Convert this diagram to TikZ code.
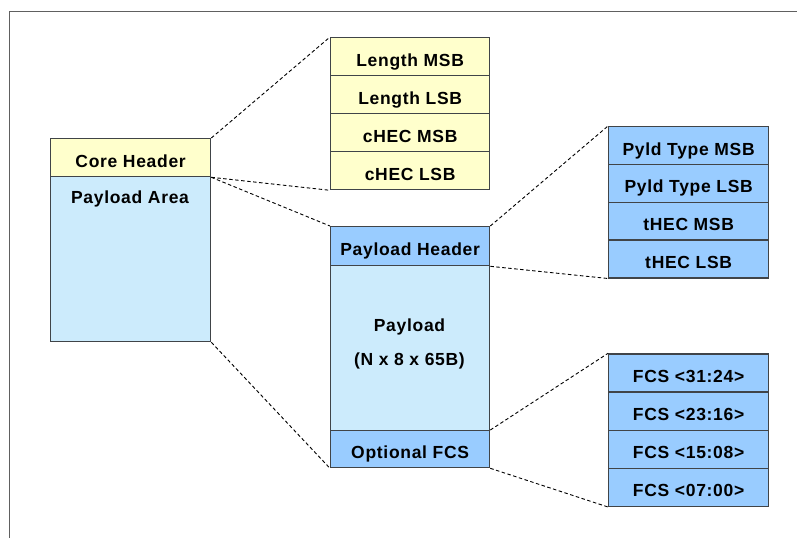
\documentclass[tikz,border=0pt]{standalone}
\usepackage{fontspec}
\setmainfont{Liberation Sans}[LetterSpace=4]
\definecolor{hdryel}{HTML}{FFFFCC}
\definecolor{ltblue}{HTML}{CCEBFC}
\definecolor{midblue}{HTML}{99CCFF}
\definecolor{boxline}{HTML}{404448}
\definecolor{framecol}{HTML}{606060}
\begin{document}
\begin{tikzpicture}[x=1pt,y=-1pt,
  cell/.style={draw=boxline, line width=1.3pt, inner sep=0pt, anchor=north west,
    font=\fontsize{17.5}{19}\selectfont\bfseries, text height=19pt, text depth=0pt},
  ycell/.style={cell, fill=hdryel},
  bcell/.style={cell, fill=midblue},
  lcell/.style={cell, fill=ltblue},
  lbl/.style={font=\fontsize{17.5}{19}\selectfont\bfseries, inner sep=0pt, anchor=base},
  conn/.style={draw=black, line width=0.9pt, dash pattern=on 3.5pt off 2.5pt}]
\useasboundingbox (0,0) rectangle (797,538);
\draw[framecol, line width=1pt] (9,538) -- (9,11) -- (797,11);

% left block
\node[ycell, minimum width=160pt, minimum height=38pt] (core) at (50,138) {Core Header};
\node[lcell, minimum width=160pt, minimum height=165pt] (parea) at (50,176) {};
\node[lbl] (parealbl) at (130,203.3) {Payload Area};

% yellow stack
\node[ycell, minimum width=159pt, minimum height=38pt] (lmsb) at (330,37) {Length MSB};
\node[ycell, minimum width=159pt, minimum height=38pt] (llsb) at (330,75) {Length LSB};
\node[ycell, minimum width=159pt, minimum height=38pt] (cmsb) at (330,113) {cHEC MSB};
\node[ycell, minimum width=159pt, minimum height=38pt] (clsb) at (330,151) {cHEC LSB};

% middle block
\node[bcell, minimum width=159pt, minimum height=39pt] (phdr) at (330,226) {Payload Header};
\node[lcell, minimum width=159pt, minimum height=165pt] (pay) at (330,265) {};
\node[lbl] (paylbl) at (409.5,331.7) {Payload};
\node[lbl] (paylbl2) at (409.5,365) {(N x 8 x 65B)};
\node[bcell, minimum width=159pt, minimum height=37pt] (ofcs) at (330,430) {Optional FCS};

% right stack 1
\node[bcell, minimum width=160pt, minimum height=37.8pt] (ptm) at (608,126) {Pyld Type MSB};
\node[bcell, minimum width=160pt, minimum height=37.8pt] (ptl) at (608,163.8) {Pyld Type LSB};
\node[bcell, minimum width=160pt, minimum height=37.8pt] (tm) at (608,201.6) {tHEC MSB};
\node[bcell, minimum width=160pt, minimum height=37.8pt] (tl) at (608,239.4) {tHEC LSB};

% right stack 2
\node[bcell, minimum width=160pt, minimum height=38.1pt] (f1) at (608,353.3) {FCS <31:24>};
\node[bcell, minimum width=160pt, minimum height=38.1pt] (f2) at (608,391.4) {FCS <23:16>};
\node[bcell, minimum width=160pt, minimum height=38.1pt] (f3) at (608,429.5) {FCS <15:08>};
\node[bcell, minimum width=160pt, minimum height=38.1pt] (f4) at (608,467.6) {FCS <07:00>};

% connectors
\draw[conn] (core.north east) -- (lmsb.north west);
\draw[conn] (core.south east) -- (clsb.south west);
\draw[conn] (core.south east) -- (phdr.north west);
\draw[conn] (parea.south east) -- (ofcs.south west);
\draw[conn] (phdr.north east) -- (ptm.north west);
\draw[conn] (phdr.south east) -- (tl.south west);
\draw[conn] (ofcs.north east) -- (f1.north west);
\draw[conn] (ofcs.south east) -- (f4.south west);
\end{tikzpicture}
\end{document}
